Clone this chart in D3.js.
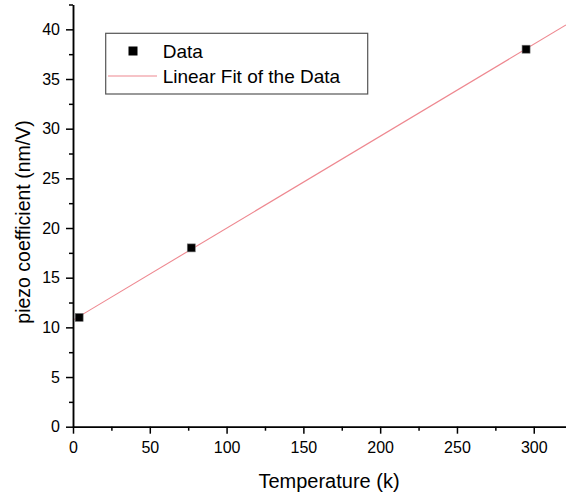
<!DOCTYPE html>
<html lang="en">
  <head>
    <meta charset="utf-8"/>
    <title>Piezo coefficient vs temperature</title>
    <script src="https://d3js.org/d3.v7.min.js"></script>
    <style>
      body { margin: 0; background: #fff; }
      svg text { font-family: "Liberation Sans", Arial, sans-serif; fill: #000; }
    </style>
  </head>
  <body>
    <div id="chart"></div>
    <script>
     // measured points
     let temperature = [4, 77, 295],
         piezo = [11, 18, 38];

     // linear fit, end points
     let fitX = [0, 321],
         fitY = [10.73, 40.44];

     let xTicks = [0, 50, 100, 150, 200, 250, 300],
         xMinor = [25, 75, 125, 175, 225, 275],
         yTicks = [0, 5, 10, 15, 20, 25, 30, 35, 40],
         yMinor = [2.5, 7.5, 12.5, 17.5, 22.5, 27.5, 32.5, 37.5, 42.5];

     let legendLabels = ["Data", "Linear Fit of the Data"];

     let svgWidth = 566,
         svgHeight = 492;

     let svg = d3.select("#chart")
                 .append("svg")
                 .attr("width", svgWidth)
                 .attr("height", svgHeight);

     let xScale = d3.scaleLinear()
                    .domain([0, 321])
                    .range([73, 566]);

     let yScale = d3.scaleLinear()
                    .domain([0, 42.5])
                    .range([426.7, 4.5]);

     let lineColor = "#ee8890";

     // fit line
     let line = d3.line()
                  .x(d => xScale(d[0]))
                  .y(d => yScale(d[1]));

     svg.append("path")
        .datum(d3.zip(fitX, fitY))
        .attr("fill", "none")
        .attr("stroke", lineColor)
        .attr("stroke-width", 1.1)
        .attr("d", line);

     // axes
     function styleAxis(g) {
         g.selectAll("path, line")
          .attr("stroke", "#000")
          .attr("stroke-width", 1.5);
         g.selectAll("text")
          .style("font-size", "16px")
          .attr("fill", "#111");
     }

     svg.append("g")
        .attr("transform", `translate(0, ${yScale(0)})`)
        .call(d3.axisBottom(xScale).tickValues(xMinor).tickSize(4).tickFormat("").tickSizeOuter(0))
        .call(styleAxis);

     svg.append("g")
        .attr("transform", `translate(0, ${yScale(0)})`)
        .call(d3.axisBottom(xScale).tickValues(xTicks).tickSize(7).tickPadding(8).tickSizeOuter(0))
        .call(styleAxis);

     svg.append("g")
        .attr("transform", `translate(${xScale(0)}, 0)`)
        .call(d3.axisLeft(yScale).tickValues(yMinor).tickSize(4).tickFormat("").tickSizeOuter(0))
        .call(styleAxis);

     svg.append("g")
        .attr("transform", `translate(${xScale(0)}, 0)`)
        .call(d3.axisLeft(yScale).tickValues(yTicks).tickSize(7).tickPadding(6).tickSizeOuter(0))
        .call(styleAxis);

     // data squares
     svg.selectAll("rect.point")
        .data(d3.zip(temperature, piezo))
        .join("rect")
        .attr("class", "point")
        .attr("x", d => xScale(d[0]) - 4)
        .attr("y", d => yScale(d[1]) - 4)
        .attr("width", 8)
        .attr("height", 8)
        .attr("fill", "#000")
        .attr("stroke", "#777")
        .attr("stroke-width", 0.6);

     // axis titles
     svg.append("text")
        .attr("x", 329)
        .attr("y", 488)
        .attr("text-anchor", "middle")
        .style("font-size", "20px")
        .text("Temperature (k)");

     svg.append("text")
        .attr("transform", "translate(30, 222) rotate(-90)")
        .attr("text-anchor", "middle")
        .style("font-size", "19.5px")
        .text("piezo coefficient (nm/V)");

     // legend
     let legend = svg.append("g");

     legend.append("rect")
           .attr("x", 105.7)
           .attr("y", 33.3)
           .attr("width", 262)
           .attr("height", 60.7)
           .attr("fill", "#fff")
           .attr("stroke", "#555")
           .attr("stroke-width", 1.2);

     legend.append("rect")
           .attr("x", 128.5)
           .attr("y", 46.5)
           .attr("width", 9)
           .attr("height", 9)
           .attr("fill", "#000");

     legend.append("line")
           .attr("x1", 108)
           .attr("x2", 157)
           .attr("y1", 76)
           .attr("y2", 76)
           .attr("stroke", lineColor)
           .attr("stroke-width", 1.1);

     legend.selectAll("text.label")
           .data(legendLabels)
           .join("text")
           .attr("class", "label")
           .attr("x", 162.7)
           .attr("y", (d, i) => 58 + i * 24.7)
           .style("font-size", "19px")
           .text(d => d);
    </script>
  </body>
</html>
